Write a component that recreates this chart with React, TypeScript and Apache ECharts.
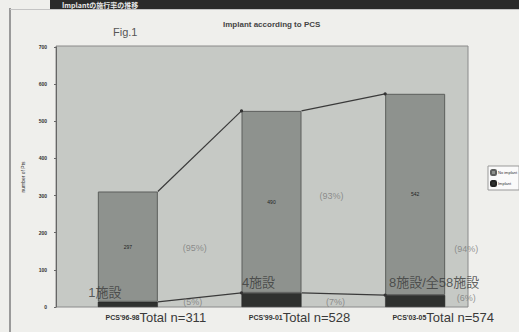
import React, { useEffect, useRef } from "react";
import * as echarts from "echarts";

const categories = ["PCS'96-98", "PCS'99-01", "PCS'03-05"];
const totalLabels = ["Total n=311", "Total n=528", "Total n=574"];
const noImplant = [297, 490, 542];
const implant = [14, 38, 32];
const noPct = ["(95%)", "(93%)", "(94%)"];
const implantPct = ["(5%)", "(7%)", "(6%)"];
const facilities = ["1施設", "4施設", "8施設/全58施設"];
const yMax = 700;
const yStep = 100;

export default function App() {
  const ref = useRef<HTMLDivElement>(null);
  useEffect(() => {
    if (!ref.current) return;
    const chart = echarts.init(ref.current, undefined, { renderer: "svg" });
    const totals = noImplant.map((v, i) => v + implant[i]);
    const pairs = (arr: number[]) =>
      arr.slice(0, -1).map((v, i) => [i, v, arr[i + 1]]);
    const half = 30;

    const annotation = (
      items: { i: number; y: number; dx: number; text: string }[],
      size: number,
      color: string
    ) => ({
      type: "scatter",
      silent: true,
      symbolSize: 0,
      z: 5,
      data: items.map((it) => ({
        value: [it.i, it.y],
        label: {
          show: true,
          position: "inside",
          offset: [it.dx, 0],
          formatter: it.text,
          fontSize: size,
          color,
          fontFamily: "Liberation Sans, Noto Sans CJK JP, sans-serif",
        },
      })),
    });

    chart.setOption({
      animation: false,
      backgroundColor: "#efefec",
      textStyle: { fontFamily: "Liberation Sans, Noto Sans CJK JP, sans-serif" },
      title: {
        text: "Implant according to PCS",
        left: 218,
        top: 15,
        textStyle: { fontSize: 8, fontWeight: "bold", color: "#444" },
      },
      graphic: [
        { type: "rect", z: -10, shape: { x: 50, y: 0, width: 469, height: 9 }, style: { fill: "#2b2b2b" } },
        { type: "text", z: -9, x: 62, y: 1, style: { text: "Implantの施行率の推移", fill: "#e8e8e8", fontSize: 7, fontWeight: "bold", fontFamily: "Noto Sans CJK JP", verticalAlign: "top", lineHeight: 7 } },
        { type: "line", z: -9, shape: { x1: 10, y1: 8, x2: 10, y2: 332 }, style: { stroke: "#9a9a9a", lineWidth: 2 } },
        { type: "line", z: -9, shape: { x1: 10, y1: 9.5, x2: 519, y2: 9.5 }, style: { stroke: "#c4c4c4", lineWidth: 1 } },
        { type: "rect", z: -5, shape: { x: 56, y: 46, width: 412, height: 261 }, style: { fill: "#c6c9c5", stroke: "#8a8a8a", lineWidth: 1 } },
        { type: "text", x: 113, y: 26, style: { text: "Fig.1", fill: "#555", fontSize: 11 } },
      ],
      legend: {
        data: ["No implant", "Implant"],
        orient: "vertical",
        left: 488,
        top: 166,
        itemWidth: 5,
        itemHeight: 5,
        itemGap: 4,
        padding: [3, 2, 3, 2],
        backgroundColor: "#fafafa",
        borderColor: "#999",
        borderWidth: 1,
        textStyle: { fontSize: 4, color: "#333", padding: [0, 0, 0, -3] },
      },
      grid: { left: 56, right: 32, top: 47, bottom: 25 },
      xAxis: {
        type: "category",
        data: categories,
        axisLine: { show: false },
        axisTick: { show: false },
        axisLabel: {
          interval: 0,
          margin: 4,
          padding: [0, 0, 0, 56],
          formatter: (v: string, i: number) => `{a|${v}}{b|${totalLabels[i]}}`,
          rich: {
            a: { fontSize: 7, fontWeight: "bold", color: "#333" },
            b: { fontSize: 13, color: "#3a3a3a" },
          },
        },
      },
      yAxis: {
        type: "value",
        min: 0,
        max: yMax,
        interval: yStep,
        name: "number of Pts",
        nameLocation: "middle",
        nameGap: 31,
        nameRotate: 90,
        nameTextStyle: { fontSize: 5, color: "#333" },
        axisLine: { show: true, lineStyle: { color: "#666" } },
        axisTick: { show: true, length: 2, lineStyle: { color: "#666" } },
        axisLabel: { fontSize: 5, fontWeight: "bold", color: "#333", margin: 9 },
        splitLine: { show: false },
      },
      series: [
        {
          name: "Implant",
          type: "bar",
          stack: "pts",
          barWidth: 60,
          data: implant,
          itemStyle: { color: "#2f312f", borderColor: "#222", borderWidth: 0.5 },
        },
        {
          name: "No implant",
          type: "bar",
          stack: "pts",
          barWidth: 60,
          data: noImplant,
          itemStyle: { color: "#8e928e", borderColor: "#5c5e5c", borderWidth: 1 },
          label: { show: true, position: "inside", fontSize: 5, color: "#222" },
        },
        {
          type: "custom",
          silent: true,
          z: 4,
          data: [...pairs(totals), ...pairs(implant)],
          renderItem: (params: any, api: any) => {
            const i = api.value(0);
            const a = api.coord([i, api.value(1)]);
            const b = api.coord([i + 1, api.value(2)]);
            return {
              type: "group",
              children: [
                {
                  type: "line",
                  shape: { x1: a[0] + half, y1: a[1], x2: b[0] - half, y2: b[1] },
                  style: { stroke: "#3a3a3a", lineWidth: 1.2 },
                },
                {
                  type: "circle",
                  shape: { cx: b[0] - half, cy: b[1], r: 1.6 },
                  style: { fill: "#333" },
                },
              ],
            };
          },
        },
        annotation(
          [
            { i: 0, y: 159, dx: 67, text: noPct[0] },
            { i: 1, y: 299, dx: 60, text: noPct[1] },
            { i: 2, y: 156, dx: 51, text: noPct[2] },
            { i: 0, y: 13, dx: 65, text: implantPct[0] },
            { i: 1, y: 13, dx: 64, text: implantPct[1] },
            { i: 2, y: 24, dx: 51, text: implantPct[2] },
          ],
          9,
          "#7a7a7a"
        ),
        annotation(
          [
            { i: 0, y: 38, dx: -23, text: facilities[0] },
            { i: 1, y: 67, dx: -13, text: facilities[1] },
            { i: 2, y: 67, dx: 19, text: facilities[2] },
          ],
          13,
          "#3a3a3a"
        ),
      ],
    });
    return () => chart.dispose();
  }, []);
  return (
    <div
      ref={ref}
      style={{ position: "fixed", left: 0, top: 0, width: 519, height: 332 }}
    />
  );
}
